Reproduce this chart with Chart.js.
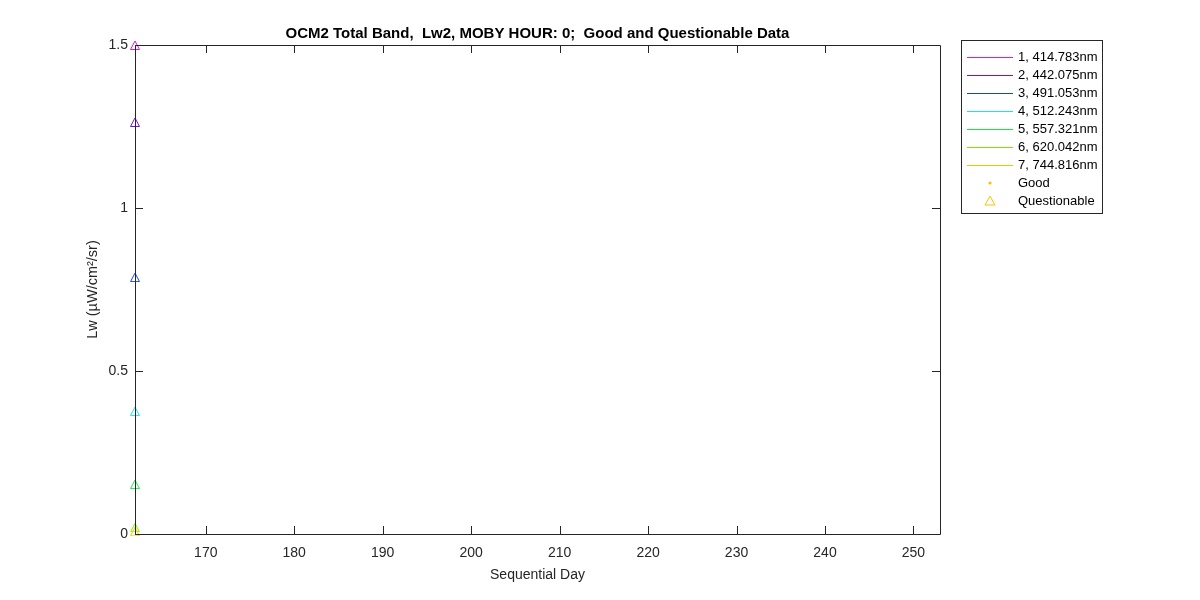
<!DOCTYPE html>
<html>
<head>
<meta charset="utf-8">
<script src="https://cdn.jsdelivr.net/npm/chart.js@4.4.1/dist/chart.umd.min.js"></script>
<style>
  html, body { margin: 0; padding: 0; background: #fff; }
  #wrap { width: 1200px; height: 600px; }
</style>
</head>
<body>
<div id="wrap"><canvas id="graph"></canvas></div>
<script>
// band names and colours
const bands = ["1, 414.783nm", "2, 442.075nm", "3, 491.053nm", "4, 512.243nm",
               "5, 557.321nm", "6, 620.042nm", "7, 744.816nm"];
const bandColors = ["#e01ccc", "#6a14dc", "#1444e0", "#19e6e6", "#19e640", "#7fe600", "#ffbf00"];

// questionable points (only one day)
const qDays = [162];
const qLw = [[1.5], [1.264], [0.788], [0.377], [0.153], [0.02], [0.008]];

// good points: none
const goodDays = [];
const goodLw = [[], [], [], [], [], [], []];

const xTicks = [170, 180, 190, 200, 210, 220, 230, 240, 250];
const yTicks = [0, 0.5, 1, 1.5];

const titleText = "OCM2 Total Band,  Lw2, MOBY HOUR: 0;  Good and Questionable Data";

// matlab style triangle, centred on its box
function triangleMarker(color) {
	let cv = document.createElement('canvas');
	cv.width = 12; cv.height = 10;
	let g = cv.getContext('2d');
	g.strokeStyle = color;
	g.lineWidth = 1;
	g.beginPath();
	g.moveTo(6, 1); g.lineTo(10.5, 9.5); g.lineTo(1.5, 9.5); g.closePath();
	g.stroke();
	return cv;
}

let datasets = [];
bands.forEach(function(b, i) {
	datasets.push({
		type: 'line',
		label: b,
		data: goodDays.map(function(d, k) { return {x: d, y: goodLw[i][k]}; }),
		borderColor: bandColors[i],
		borderWidth: 1,
		pointRadius: 1.5,
		pointBackgroundColor: bandColors[i],
		clip: false
	});
	datasets.push({
		type: 'scatter',
		label: b + ' questionable',
		data: qDays.map(function(d, k) { return {x: d, y: qLw[i][k]}; }),
		pointStyle: triangleMarker(bandColors[i]),
		pointRadius: 5,
		borderColor: bandColors[i],
		clip: false
	});
});

// Box, inward ticks, titles and legend like matlab
const matlabLook = {
	id: 'matlabLook',
	afterDraw(chart) {
		const c = chart.ctx;
		const a = chart.chartArea;
		const xs = chart.scales.x, ys = chart.scales.y;
		c.save();
		c.strokeStyle = '#262626';
		c.lineWidth = 1;
		c.beginPath();
		c.rect(Math.round(a.left) + 0.5, Math.round(a.top) + 0.5,
		       Math.round(a.right - a.left), Math.round(a.bottom - a.top));
		c.stroke();
		c.beginPath();
		xTicks.forEach(function(t) {
			const px = Math.round(xs.getPixelForValue(t)) + 0.5;
			c.moveTo(px, a.bottom); c.lineTo(px, a.bottom - 8);
			c.moveTo(px, a.top); c.lineTo(px, a.top + 8);
		});
		yTicks.forEach(function(t) {
			const py = Math.round(ys.getPixelForValue(t)) + 0.5;
			c.moveTo(a.left, py); c.lineTo(a.left + 8, py);
			c.moveTo(a.right, py); c.lineTo(a.right - 8, py);
		});
		c.stroke();

		// titles
		c.fillStyle = '#000';
		c.font = 'bold 15px "Liberation Sans", Arial, sans-serif';
		c.textAlign = 'center';
		c.textBaseline = 'middle';
		c.fillText(titleText, (a.left + a.right) / 2, 34);
		c.fillStyle = '#262626';
		c.font = '14px "Liberation Sans", Arial, sans-serif';
		c.fillText('Sequential Day', (a.left + a.right) / 2, 575);
		c.save();
		c.translate(93, (a.top + a.bottom) / 2);
		c.rotate(-Math.PI / 2);
		c.font = '14.5px "Liberation Sans", Arial, sans-serif';
		c.fillText('Lw (\u00b5W/cm\u00b2/sr)', 0, 0);
		c.restore();

		// legend
		const lx = 961, ly = 40, lw = 141, lh = 173;
		c.fillStyle = '#fff';
		c.fillRect(lx, ly, lw, lh);
		c.strokeStyle = '#262626';
		c.strokeRect(lx + 0.5, ly + 0.5, lw, lh);
		c.font = '13px "Liberation Sans", Arial, sans-serif';
		c.textAlign = 'left';
		bands.forEach(function(b, i) {
			const y = 57.5 + i * 18;
			c.strokeStyle = bandColors[i];
			c.beginPath(); c.moveTo(967, y); c.lineTo(1013, y); c.stroke();
			c.fillStyle = '#000';
			c.fillText(b, 1018, y);
		});
		const orange = bandColors[6];
		c.fillStyle = orange;
		c.beginPath(); c.arc(990, 183, 1.6, 0, Math.PI * 2); c.fill();
		c.fillStyle = '#000';
		c.fillText('Good', 1018, 183);
		c.strokeStyle = orange;
		c.beginPath();
		c.moveTo(990, 196); c.lineTo(995, 205); c.lineTo(985, 205); c.closePath();
		c.stroke();
		c.fillStyle = '#000';
		c.fillText('Questionable', 1018, 201);
		c.restore();
	}
};

var ctx = document.getElementById("graph").getContext("2d");
window.myChart = new Chart(ctx, {
	type: 'scatter',
	data: { datasets: datasets },
	options: {
		responsive: true,
		maintainAspectRatio: false,
		animation: false,
		layout: { padding: { left: 0, right: 260, top: 45, bottom: 0 } },
		plugins: {
			legend: { display: false },
			tooltip: { enabled: false }
		},
		scales: {
			x: {
				type: 'linear',
				min: 162,
				max: 253,
				grid: { display: false, drawTicks: false },
				border: { display: false },
				afterBuildTicks: function(s) { s.ticks = xTicks.map(function(v) { return {value: v}; }); },
				afterFit: function(s) { s.height = 66; },
				ticks: {
					padding: 11,
					maxRotation: 0,
					color: '#262626',
					font: { size: 14, family: '"Liberation Sans", Arial, sans-serif' }
				}
			},
			y: {
				min: 0,
				max: 1.5,
				grid: { display: false, drawTicks: false },
				border: { display: false },
				afterBuildTicks: function(s) { s.ticks = yTicks.map(function(v) { return {value: v}; }); },
				afterFit: function(s) { s.width = 135; },
				ticks: {
					padding: 7,
					color: '#262626',
					callback: function(v) { return String(v); },
					font: { size: 14, family: '"Liberation Sans", Arial, sans-serif' }
				}
			}
		}
	},
	plugins: [matlabLook]
});
</script>
</body>
</html>
